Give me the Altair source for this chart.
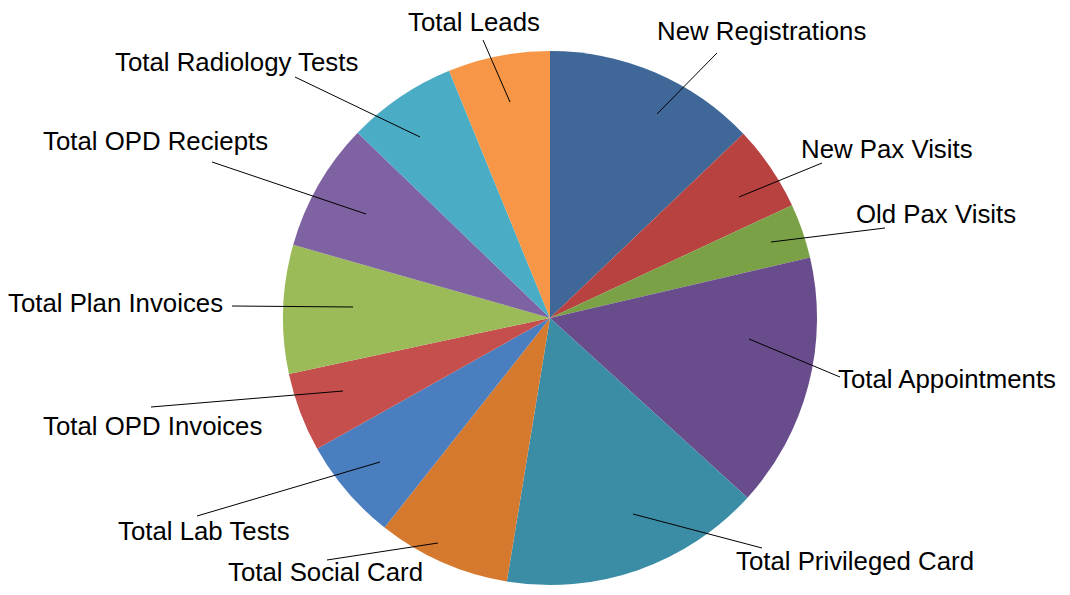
import altair as alt
import pandas as pd

# ---- data -------------------------------------------------------------
categories = [
    "New Registrations", "New Pax Visits", "Old Pax Visits", "Total Appointments",
    "Total Privileged Card", "Total Social Card", "Total Lab Tests", "Total OPD Invoices",
    "Total Plan Invoices", "Total OPD Reciepts", "Total Radiology Tests", "Total Leads",
]
values = [46.4, 18.6, 11.9, 55.4, 57.0, 29.0, 22.4, 17.2, 28.0, 28.0, 23.9, 22.2]

# ---- styling ----------------------------------------------------------
colors = [
    "#3F6797", "#B7423F", "#7BA147", "#684C8C",
    "#3A8DA5", "#D5792F", "#4A7EBF", "#C44F4D",
    "#9BBB59", "#7F62A1", "#4AACC5", "#F79646",
]

# ---- label layout (page pixels) ---------------------------------------
ORIGIN = 8
CX, CY, R = 550, 318, 267
label_left = [657, 801, 856, 838, 736, 228, 118, 43, 8, 43, 115, 408]
label_base = [40, 158, 223, 388, 570, 581, 540, 435, 312, 150, 71, 31]
lead_in_x = [657, 739, 771, 749, 633, 438, 380, 343, 353, 366, 420, 510]
lead_in_y = [114, 197, 242, 339, 514, 543, 462, 391, 307, 214, 137, 102]
lead_out_x = [717, 822, 885, 840, 762, 327, 197, 151, 232, 212, 295, 483]
lead_out_y = [53, 163, 228, 377, 548, 560, 516, 407, 306, 162, 77, 40]

df = pd.DataFrame({
    "cat": categories,
    "value": values,
    "idx": list(range(len(categories))),
    "tx": [v - ORIGIN for v in label_left],
    "ty": [v - ORIGIN for v in label_base],
    "x1": [v - ORIGIN for v in lead_in_x],
    "y1": [v - ORIGIN for v in lead_in_y],
    "x2": [v - ORIGIN for v in lead_out_x],
    "y2": [v - ORIGIN for v in lead_out_y],
})

pie = alt.Chart(df).mark_arc(radius=R).encode(
    theta=alt.Theta("value:Q", stack=True),
    color=alt.Color("cat:N", scale=alt.Scale(domain=categories, range=colors), legend=None),
    order=alt.Order("idx:Q"),
    x=alt.value(CX - ORIGIN),
    y=alt.value(CY - ORIGIN),
)

leaders = alt.Chart(df).mark_rule(color="black", strokeWidth=1).encode(
    x=alt.X("x1:Q", scale=None, axis=None),
    y=alt.Y("y1:Q", scale=None, axis=None),
    x2="x2:Q",
    y2="y2:Q",
)

labels = alt.Chart(df).mark_text(
    align="left", baseline="alphabetic", font="Liberation Sans",
    fontSize=25.8, color="black",
).encode(
    x=alt.X("tx:Q", scale=None, axis=None),
    y=alt.Y("ty:Q", scale=None, axis=None),
    text="cat:N",
)

chart = alt.layer(pie, leaders, labels).properties(
    width=1054, height=579, padding=0, autosize="none",
).configure_view(stroke=None)

chart.save("out.html", embed_options={"renderer": "svg", "actions": False})
